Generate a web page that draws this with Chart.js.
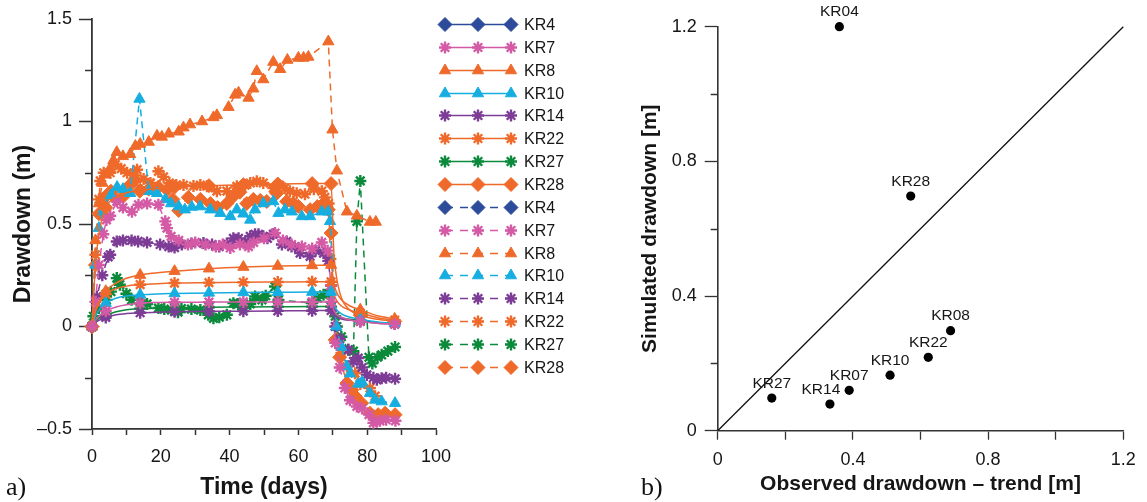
<!DOCTYPE html>
<html>
<head>
<meta charset="utf-8">
<script src="https://cdn.jsdelivr.net/npm/chart.js@4.4.1/dist/chart.umd.min.js"></script>
<style>
  html, body { margin: 0; padding: 0; background: #fff; }
  body { width: 1147px; height: 502px; position: relative; overflow: hidden; }
  #wrapA { position: absolute; left: 0; top: 0; width: 620px; height: 502px; }
  #wrapB { position: absolute; left: 620px; top: 0; width: 527px; height: 502px; }
  .panel { position: absolute; font-family: "Liberation Serif", serif; font-size: 26px; color: #111; line-height: 1; }
</style>
</head>
<body>
<div id="wrapA"><canvas id="timeChart" width="620" height="502"></canvas></div>
<div id="wrapB"><canvas id="fitChart" width="527" height="502"></canvas></div>
<div class="panel" style="left:6px; top:474px">a)</div>
<div class="panel" style="left:641px; top:474px">b)</div>
<script>
// ---- a) drawdown vs time ----
const wells = ['KR4', 'KR7', 'KR8', 'KR10', 'KR14', 'KR22', 'KR27', 'KR28'];

// simulated curves (solid), markers only on simMarkDays
const simDays = [0, 1, 2, 4, 7, 10, 14, 19, 24, 34, 44, 54, 64, 69.5, 70.3, 71, 72.5, 75, 78, 83, 88];
const simMarkDays = [0, 4, 14, 24, 34, 44, 54, 64, 69.5, 78, 88];
const simKR4 = [];
const simKR7 = [0, 0.03, 0.05, 0.075, 0.095, 0.106, 0.114, 0.117, 0.118, 0.119, 0.12, 0.12, 0.12, 0.12, 0.08, 0.06, 0.045, 0.032, 0.025, 0.016, 0.012];
const simKR8 = [0, 0.08, 0.12, 0.172, 0.212, 0.235, 0.251, 0.262, 0.27, 0.282, 0.29, 0.295, 0.298, 0.3, 0.21, 0.17, 0.13, 0.1, 0.082, 0.052, 0.037];
const simKR10 = [0, 0.05, 0.08, 0.114, 0.138, 0.149, 0.155, 0.159, 0.161, 0.164, 0.166, 0.167, 0.168, 0.168, 0.11, 0.085, 0.062, 0.045, 0.035, 0.022, 0.016];
const simKR14 = [0, 0.018, 0.03, 0.044, 0.057, 0.063, 0.067, 0.07, 0.072, 0.074, 0.075, 0.076, 0.077, 0.078, 0.058, 0.047, 0.037, 0.03, 0.025, 0.016, 0.012];
const simKR22 = [0, 0.07, 0.11, 0.158, 0.185, 0.197, 0.204, 0.209, 0.212, 0.214, 0.216, 0.217, 0.218, 0.218, 0.16, 0.13, 0.1, 0.08, 0.066, 0.043, 0.031];
const simKR27 = [0, 0.025, 0.04, 0.055, 0.072, 0.082, 0.087, 0.09, 0.092, 0.094, 0.095, 0.096, 0.097, 0.097, 0.07, 0.055, 0.042, 0.035, 0.03, 0.02, 0.016];
const simKR28 = [0, 0.3, 0.45, 0.58, 0.63, 0.652, 0.665, 0.673, 0.68, 0.687, 0.692, 0.695, 0.697, 0.697, 0.36, 0.25, 0.14, 0.08, 0.055, 0.035, 0.025];

// observed (dashed), [day, drawdown]
const obsKR4 = [];
const obsKR7 = [[0,0],[1,0.12],[2,0.3],[3.3,0.45],[4.2,0.52],[5.3,0.54],[7.2,0.61],[9,0.58],[11.6,0.56],[13.5,0.594],[16,0.6],[19.3,0.594],[21.3,0.513],[21.8,0.48],[23,0.44],[25.2,0.42],[27.9,0.4],[30,0.41],[33,0.4],[36,0.39],[38,0.4],[40.2,0.383],[43,0.4],[45.5,0.39],[47,0.41],[50,0.43],[53.2,0.456],[55.5,0.42],[58,0.4],[61,0.39],[64,0.38],[66.8,0.41],[68.5,0.37],[69.5,0.2],[70.7,-0.08],[72,-0.2],[73.5,-0.3],[75,-0.36],[77,-0.39],[78.5,-0.4],[80.5,-0.43],[81.8,-0.47],[82.7,-0.464],[83.7,-0.46],[85.5,-0.455],[88.2,-0.46]];
const obsKR8 = [[0,0],[1,0.42],[2,0.6],[3,0.7],[4,0.74],[5.2,0.77],[6.2,0.81],[7.2,0.85],[9,0.83],[11.1,0.84],[12.6,0.88],[14,0.89],[16.5,0.9],[18.9,0.93],[20.3,0.925],[22.3,0.94],[25.2,0.95],[26.6,0.97],[28.5,0.985],[32,1.0],[35.3,1.02],[36.3,1.03],[39.7,1.07],[41.6,1.13],[42.6,1.14],[45.5,1.115],[46.9,1.16],[47.9,1.245],[49.8,1.205],[52.7,1.29],[54.7,1.255],[56.8,1.3],[60,1.31],[61.5,1.31],[62.9,1.315],[68.7,1.39],[69.9,0.96],[71.2,0.76],[74.1,0.56],[77,0.54],[80.8,0.51],[82.5,0.51]];
const obsKR10 = [[0,0],[1,0.3],[2,0.48],[3,0.56],[4.2,0.59],[5.5,0.64],[7.3,0.68],[9,0.67],[11.1,0.65],[13.8,1.11],[16.5,0.66],[18.9,0.65],[21.3,0.62],[23,0.6],[25.2,0.585],[27,0.57],[29,0.583],[31.4,0.585],[34.4,0.57],[37.3,0.553],[40.2,0.537],[42.1,0.57],[44,0.55],[46,0.52],[47.4,0.57],[49.8,0.6],[52.7,0.61],[54.2,0.553],[56.1,0.57],[58.1,0.56],[61,0.537],[63.4,0.537],[66.8,0.56],[68.7,0.56],[69.2,0.513],[71,0.0],[72.5,-0.1],[74.1,-0.195],[75,-0.23],[77.4,-0.28],[78.5,-0.27],[80.8,-0.325],[82.3,-0.358],[84.2,-0.366],[88.1,-0.374]];
const obsKR14 = [[0,0],[1.4,0.146],[3,0.25],[4.7,0.34],[5.3,0.35],[7.2,0.415],[9,0.42],[11.5,0.42],[13.4,0.415],[16,0.41],[19.8,0.4],[22.3,0.39],[24,0.385],[26.1,0.4],[28.9,0.405],[32.4,0.407],[34.9,0.4],[37,0.39],[39.2,0.405],[41.1,0.43],[42.6,0.43],[44.5,0.41],[46,0.44],[47.4,0.45],[48.4,0.45],[49.8,0.44],[51,0.43],[52.7,0.45],[55.2,0.4],[56.6,0.415],[58,0.39],[60,0.383],[60.5,0.358],[63.4,0.342],[65,0.37],[67.3,0.358],[68.7,0.32],[69.5,0.2],[70.7,0.0],[72,-0.06],[74.5,-0.114],[76,-0.17],[77.4,-0.154],[78.5,-0.2],[79.9,-0.236],[81.8,-0.25],[82.8,-0.26],[84.2,-0.252],[85.5,-0.25],[88.1,-0.255]];
const obsKR22 = [[0,0],[1,0.35],[2,0.62],[2.4,0.71],[3.4,0.75],[5.3,0.75],[6.8,0.79],[8.5,0.77],[10.2,0.75],[12,0.74],[13.1,0.765],[15,0.72],[17,0.7],[19.3,0.757],[20.8,0.73],[22.5,0.7],[24.5,0.69],[26.6,0.69],[29.5,0.685],[31.5,0.69],[33.4,0.684],[36.3,0.66],[39.2,0.66],[42.1,0.684],[44.5,0.69],[46,0.7],[47.9,0.708],[49.8,0.7],[52.7,0.675],[54.5,0.69],[56,0.675],[57.5,0.66],[59.5,0.65],[61.9,0.645],[64.5,0.67],[66.8,0.66],[67.7,0.63],[68.8,0.6],[69.3,0.33],[71.2,-0.065],[72.5,-0.13],[74.1,-0.195],[76.5,-0.228],[78,-0.28],[80.8,-0.3],[82.3,-0.34]];
const obsKR27 = [[0,0],[0.4,0.05],[2,0.09],[4.2,0.13],[5.5,0.17],[7.2,0.236],[8.1,0.204],[10,0.16],[11.5,0.13],[13.9,0.13],[16,0.11],[19.3,0.09],[21,0.085],[23.1,0.08],[25,0.07],[26,0.087],[28.9,0.085],[31.5,0.08],[33.8,0.057],[35.3,0.04],[37,0.045],[39.2,0.057],[41.1,0.114],[42.5,0.11],[44,0.09],[46,0.11],[47.4,0.146],[49.4,0.13],[50.5,0.15],[53.2,0.195],[54.2,0.13],[63.9,0.114],[65.5,0.14],[67.3,0.155],[68.8,0.16],[70.7,0.05],[71.2,0.0],[72.5,-0.05],[74.5,-0.114],[76,-0.12],[77,0.513],[78,0.71],[80.5,-0.15],[81.5,-0.18],[83,-0.15],[84.2,-0.138],[86,-0.12],[88.1,-0.1]];
const obsKR28 = [[0,0],[1,0.3],[2,0.55],[3,0.62],[4.3,0.64],[5.5,0.66],[7.2,0.62],[9.1,0.635],[11,0.69],[12.5,0.716],[13.9,0.66],[16.5,0.67],[19.3,0.68],[21.8,0.667],[23.5,0.62],[25.2,0.566],[28,0.63],[31.5,0.62],[34.4,0.6],[36.5,0.58],[39.2,0.6],[41.1,0.635],[43,0.655],[45,0.6],[46.9,0.62],[48.9,0.615],[50.8,0.61],[53.7,0.65],[56.6,0.61],[58.5,0.6],[60,0.586],[63.4,0.57],[65.5,0.585],[67.3,0.6],[68.7,0.57],[69.5,0.456],[70.7,-0.065],[72,-0.15],[74.1,-0.276],[75.5,-0.31],[76.5,-0.34],[78.4,-0.374],[80.8,-0.423],[82,-0.44],[83.2,-0.43],[85.2,-0.423],[88.1,-0.43]];

const simSeries = { KR4: simKR4, KR7: simKR7, KR8: simKR8, KR10: simKR10, KR14: simKR14, KR22: simKR22, KR27: simKR27, KR28: simKR28 };
const obsSeries = { KR4: obsKR4, KR7: obsKR7, KR8: obsKR8, KR10: obsKR10, KR14: obsKR14, KR22: obsKR22, KR27: obsKR27, KR28: obsKR28 };

const orange = '#ef6a2a';
const wellStyle = {
  KR4:  { color: '#2d4b9b', shape: 'rectRot', r: 7 },
  KR7:  { color: '#d45aa5', shape: 'star', r: 6 },
  KR8:  { color: orange, shape: 'triangle', r: 6.5 },
  KR10: { color: '#16aee0', shape: 'triangle', r: 6.5 },
  KR14: { color: '#7d3c96', shape: 'star', r: 6 },
  KR22: { color: orange, shape: 'star', r: 6 },
  KR27: { color: '#0b8a3c', shape: 'star', r: 6 },
  KR28: { color: orange, shape: 'rectRot', r: 7 }
};

// ---- b) simulated vs observed ----
const fitNames = ['KR04', 'KR28', 'KR08', 'KR22', 'KR10', 'KR07', 'KR14', 'KR27'];
const fitObserved = [0.36, 0.571, 0.689, 0.623, 0.51, 0.389, 0.332, 0.16];
const fitSimulated = [1.2, 0.697, 0.297, 0.218, 0.165, 0.12, 0.079, 0.097];
const oneToOne = [0, 1.2];

const axisColor = '#333';
const textColor = '#161616';
const sans = '"Liberation Sans", Arial, Helvetica, sans-serif';

function styleFor(name) {
  const st = wellStyle[name];
  const isStar = st.shape === 'star';
  return {
    borderColor: st.color,
    pointStyle: st.shape,
    pointBackgroundColor: st.color,
    pointBorderColor: st.color,
    pointBorderWidth: isStar ? 2.4 : 1,
    markR: st.r
  };
}

const markSet = new Set(simMarkDays);
const datasets = [];
wells.forEach(w => {
  const s = styleFor(w);
  datasets.push(Object.assign({
    label: w,
    data: simSeries[w].map((v, i) => ({ x: simDays[i], y: v })),
    borderWidth: 1.5,
    borderDash: [],
    cubicInterpolationMode: 'monotone',
    pointRadius: c => markSet.has(simDays[c.dataIndex]) ? s.markR : 0,
    clip: false
  }, s));
});
wells.forEach(w => {
  const s = styleFor(w);
  datasets.push(Object.assign({
    label: w,
    data: obsSeries[w].map(p => ({ x: p[0], y: p[1] })),
    borderWidth: 1.5,
    borderDash: [7, 5],
    tension: 0,
    pointRadius: s.markR,
    clip: false
  }, s));
});

function isEvery(v, every) {
  const k = v / every;
  return Math.abs(k - Math.round(k)) < 1e-6;
}

// short ticks between the labelled ones
const shortTicks = {
  id: 'shortTicks',
  afterDraw(chart, args, opts) {
    const ctx = chart.ctx;
    ctx.save();
    ctx.strokeStyle = axisColor;
    ctx.lineWidth = 1.5;
    Object.keys(opts.len || {}).forEach(id => {
      const sc = chart.scales[id];
      const len = opts.len[id];
      sc.ticks.forEach(t => {
        if (isEvery(t.value, opts.every[id])) return;
        const p = Math.round(sc.getPixelForValue(t.value)) + 0.5;
        ctx.beginPath();
        ctx.moveTo(sc.right - len, p);
        ctx.lineTo(sc.right, p);
        ctx.stroke();
      });
    });
    ctx.restore();
  }
};

// legend with three markers per entry, right of the plot
const sideLegend = {
  id: 'sideLegend',
  afterDraw(chart) {
    const ctx = chart.ctx;
    const x0 = 445, x1 = 511, top = 24, step = 22.85;
    ctx.save();
    chart.data.datasets.forEach((ds, i) => {
      const y = Math.round(top + i * step) + 0.5;
      ctx.strokeStyle = ds.borderColor;
      ctx.lineWidth = 1.5;
      ctx.setLineDash(ds.borderDash.length ? [8, 7] : []);
      ctx.beginPath();
      ctx.moveTo(x0, y);
      ctx.lineTo(x1, y);
      ctx.stroke();
      ctx.setLineDash([]);
      [x0, (x0 + x1) / 2, x1].forEach(px => {
        ctx.fillStyle = ds.pointBackgroundColor;
        ctx.strokeStyle = ds.pointBorderColor;
        ctx.lineWidth = ds.pointBorderWidth;
        Chart.helpers.drawPoint(ctx, { pointStyle: ds.pointStyle, radius: ds.markR, rotation: 0, borderWidth: ds.pointBorderWidth }, px, y);
      });
      ctx.fillStyle = textColor;
      ctx.font = '16px ' + sans;
      ctx.textBaseline = 'middle';
      ctx.textAlign = 'left';
      ctx.fillText(ds.label, 524, y + 1);
    });
    ctx.restore();
  }
};

new Chart(document.getElementById('timeChart'), {
  type: 'line',
  data: { datasets: datasets },
  plugins: [shortTicks, sideLegend],
  options: {
    responsive: false,
    animation: false,
    devicePixelRatio: 1,
    events: [],
    layout: { padding: { left: 0, right: 184, top: 19, bottom: 0 } },
    plugins: {
      legend: { display: false },
      tooltip: { enabled: false },
      shortTicks: { len: { y: 7 }, every: { y: 0.5 } }
    },
    scales: {
      x: {
        type: 'linear', min: 0, max: 100,
        afterFit: s => { s.height = 73; },
        border: { display: true, color: axisColor, width: 1.8 },
        grid: { drawOnChartArea: false, drawTicks: true, tickLength: 6, tickColor: axisColor, tickWidth: 1.5 },
        ticks: {
          stepSize: 10, autoSkip: false, maxRotation: 0, padding: 11,
          color: textColor, font: { family: sans, size: 18 },
          callback: v => isEvery(v, 20) ? String(v) : ''
        },
        title: { display: true, text: 'Time (days)', color: textColor, font: { family: sans, size: 23, weight: 'bold' }, padding: { top: 0, bottom: 1 } }
      },
      y: {
        type: 'linear', min: -0.5, max: 1.5,
        afterFit: s => { s.width = 92; },
        border: { display: true, color: axisColor, width: 1.8 },
        grid: {
          drawOnChartArea: false, drawTicks: true, tickLength: 13, tickWidth: 1.5,
          tickColor: c => isEvery(c.tick.value, 0.5) ? axisColor : 'rgba(0,0,0,0)'
        },
        ticks: {
          stepSize: 0.25, autoSkip: false, padding: 7,
          color: textColor, font: { family: sans, size: 18 },
          callback: v => isEvery(v, 0.5) ? (v < 0 ? '\u2013' + Math.abs(v) : String(v)) : ''
        },
        title: { display: true, text: 'Drawdown (m)', color: textColor, font: { family: sans, size: 23, weight: 'bold' }, padding: { top: 10, bottom: 0 } }
      }
    }
  }
});

// point names above the dots
const pointNames = {
  id: 'pointNames',
  afterDatasetsDraw(chart) {
    const ctx = chart.ctx;
    const meta = chart.getDatasetMeta(0);
    const shift = { KR14: -9 };
    ctx.save();
    ctx.fillStyle = textColor;
    ctx.font = '15.5px ' + sans;
    ctx.textAlign = 'center';
    ctx.textBaseline = 'bottom';
    meta.data.forEach((pt, i) => {
      const name = fitNames[i];
      ctx.fillText(name, pt.x + (shift[name] || 0), pt.y - 7);
    });
    ctx.restore();
  }
};

new Chart(document.getElementById('fitChart'), {
  type: 'scatter',
  data: {
    datasets: [
      {
        label: 'wells',
        data: fitObserved.map((v, i) => ({ x: v, y: fitSimulated[i] })),
        pointRadius: 4.6,
        pointBackgroundColor: '#000',
        pointBorderColor: '#000',
        pointBorderWidth: 0,
        clip: false
      },
      {
        label: '1:1',
        data: oneToOne.map(v => ({ x: v, y: v })),
        showLine: true,
        borderColor: '#111',
        borderWidth: 1.3,
        pointRadius: 0,
        clip: false
      }
    ]
  },
  plugins: [shortTicks, pointNames],
  options: {
    responsive: false,
    animation: false,
    devicePixelRatio: 1,
    events: [],
    layout: { padding: { left: 0, right: 23.7, top: 26.7, bottom: 0 } },
    plugins: {
      legend: { display: false },
      tooltip: { enabled: false },
      shortTicks: { len: { y: 7 }, every: { y: 0.4 } }
    },
    scales: {
      x: {
        type: 'linear', min: 0, max: 1.2,
        afterFit: s => { s.height = 71.3; },
        border: { display: true, color: axisColor, width: 1.6 },
        grid: { drawOnChartArea: false, drawTicks: true, tickLength: 9, tickColor: axisColor, tickWidth: 1.3 },
        ticks: {
          stepSize: 0.2, autoSkip: false, maxRotation: 0, padding: 10,
          color: textColor, font: { family: sans, size: 18 },
          callback: v => isEvery(v, 0.4) ? String(Math.round(v * 10) / 10) : ''
        },
        title: { display: true, text: 'Observed drawdown \u2013 trend [m]', color: textColor, font: { family: sans, size: 21, weight: 'bold' }, padding: { top: 0, bottom: 5 } }
      },
      y: {
        type: 'linear', min: 0, max: 1.2,
        afterFit: s => { s.width = 97.7; },
        border: { display: true, color: axisColor, width: 1.6 },
        grid: {
          drawOnChartArea: false, drawTicks: true, tickLength: 13, tickWidth: 1.3,
          tickColor: c => isEvery(c.tick.value, 0.4) ? axisColor : 'rgba(0,0,0,0)'
        },
        ticks: {
          stepSize: 0.2, autoSkip: false, padding: 8,
          color: textColor, font: { family: sans, size: 18 },
          callback: v => isEvery(v, 0.4) ? String(Math.round(v * 10) / 10) : ''
        },
        title: { display: true, text: 'Simulated drawdown [m]', color: textColor, font: { family: sans, size: 21, weight: 'bold' }, padding: { top: 18, bottom: 0 } }
      }
    }
  }
});
</script>
</body>
</html>
